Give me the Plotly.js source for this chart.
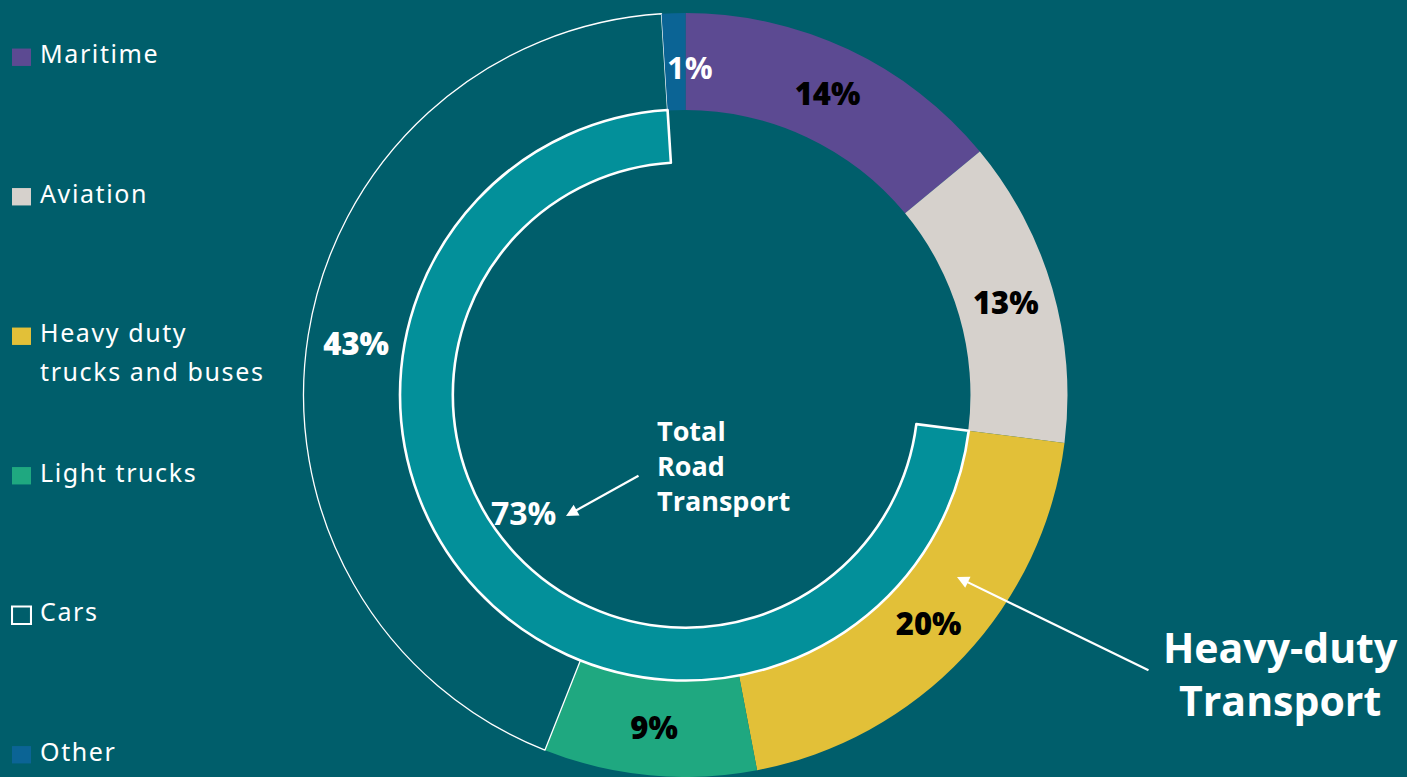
<!DOCTYPE html>
<html>
<head>
<meta charset="utf-8">
<script src="https://cdn.plot.ly/plotly-3.0.1.min.js"></script>
<style>
html,body{margin:0;padding:0;background:#005E6B;}
#chart{width:1407px;height:777px;}
.legendtext{letter-spacing:1.6px;}
.legendpie{transform:translate(21.5px,0px) scale(1.58,1.45);}
</style>
</head>
<body>
<div id="chart"></div>
<script>
// ---- data ----
const categories = ['Maritime', 'Aviation', 'Heavy duty<br>trucks and buses', 'Light trucks', 'Cars', 'Other'];
const shares = [14, 13, 20, 9, 43, 1];
const sliceColors = ['#5C4A92', '#D6D1CC', '#E2C038', '#1FA880', 'rgba(0,0,0,0)', '#0B6495'];
const roadCategories = ['Heavy duty<br>trucks and buses', 'Light trucks', 'Cars'];
const roadTotalLabel = 73;   // value printed in the chart
const roadLabel = 'Total<br>Road<br>Transport';
const heavyLabel = 'Heavy-duty<br>Transport';

// ---- derived ----
const roadShare = categories.reduce((s, c, i) => roadCategories.includes(c) ? s + shares[i] : s, 0);
const firstRoadIdx = categories.indexOf(roadCategories[0]);
const beforeRoad = shares.slice(0, firstRoadIdx).reduce((a, b) => a + b, 0);
const total = shares.reduce((a, b) => a + b, 0);

const W = 1407, H = 777;
const cx = 685.5, cy = 395;
const rOuter = 382, rInnerOuter = 285.5;
const px = x => x / W, py = y => 1 - y / H;

// legend labels: big glyphs on small line pitch, padded with blank lines for spacing
const LINES_PER_ITEM = 7;
const legendLabels = categories.map((c, idx) => {
  const parts = c.split('<br>').map(t => '<span style="font-size:25px">' + t + '</span>');
  let s = parts.join('<br> <br>');
  if (idx === categories.length - 1) return s;
  const used = parts.length * 2 - 1;
  for (let i = used; i < LINES_PER_ITEM; i++) s += '<br> ';
  return s;
});

const outer = {
  type: 'pie',
  labels: legendLabels,
  values: shares,
  sort: false,
  direction: 'clockwise',
  rotation: 0,
  hole: 0.746,
  domain: {x: [px(cx - rOuter), px(cx + rOuter)], y: [Math.max(0, 1 - (cy + rOuter) / H), 1 - (cy - rOuter) / H]},
  marker: {colors: sliceColors, line: {color: ['rgba(0,0,0,0)','rgba(0,0,0,0)','rgba(0,0,0,0)','rgba(0,0,0,0)','#FFFFFF','rgba(0,0,0,0)'], width: [0,0,0,0,1.3,0]}},
  texttemplate: shares.map((v, i) => i === shares.length - 1 ? '' : '%{value}%'),
  textposition: 'inside',
  insidetextorientation: 'horizontal',
  textfont: {family: 'Open Sans', size: 31, color: ['#000','#000','#000','#000','#FFF','#FFF'], weight: 800},
  hoverinfo: 'skip',
  showlegend: true
};

const inner = {
  type: 'pie',
  labels: ['Road', 'Non-road'],
  values: [roadShare, total - roadShare],
  sort: false,
  direction: 'clockwise',
  rotation: beforeRoad / total * 360,
  hole: 0.815,
  domain: {x: [px(cx - rInnerOuter), px(cx + rInnerOuter)], y: [1 - (cy + rInnerOuter) / H, 1 - (cy - rInnerOuter) / H]},
  marker: {colors: ['#03909A', 'rgba(0,0,0,0)'], line: {color: ['#FFFFFF', 'rgba(0,0,0,0)'], width: [2.6, 0]}},
  textinfo: 'none',
  hoverinfo: 'skip',
  showlegend: false
};

const bold = {family: 'Open Sans', color: '#FFFFFF', weight: 'bold'};
const layout = {
  width: W, height: H,
  margin: {l: 0, r: 0, t: 0, b: 0},
  paper_bgcolor: '#005E6B',
  plot_bgcolor: '#005E6B',
  showlegend: true,
  legend: {
    x: 0, y: py(41), xanchor: 'left', yanchor: 'top',
    font: {family: 'Noto Sans', size: 15, color: '#FFFFFF'},
    valign: 'top', bgcolor: 'rgba(0,0,0,0)', traceorder: 'normal', maxheight: 1000
  },
  annotations: [
    {xref: 'paper', yref: 'paper', x: px(690), y: py(67), xanchor: 'center', yanchor: 'middle',
     text: shares[shares.length - 1] + '%', showarrow: false, font: Object.assign({size: 31}, bold)},
    {xref: 'paper', yref: 'paper', x: px(523), y: py(512), xanchor: 'center', yanchor: 'middle',
     text: roadTotalLabel + '%', showarrow: false, font: Object.assign({size: 32}, bold)},
    {xref: 'paper', yref: 'paper', x: px(655), y: py(466), xanchor: 'left', yanchor: 'middle', align: 'left',
     text: roadLabel, showarrow: false, font: Object.assign({size: 27}, bold)},
    {xref: 'paper', yref: 'paper', x: px(566), y: py(516), ax: 74, ay: -41, text: ' ', showarrow: true,
     arrowcolor: '#FFFFFF', arrowwidth: 2.2, arrowhead: 2, arrowsize: 1.1, font: {size: 1}},
    {xref: 'paper', yref: 'paper', x: px(1280), y: py(673), xanchor: 'center', yanchor: 'middle',
     text: heavyLabel, showarrow: false, font: Object.assign({size: 41}, bold)},
    {xref: 'paper', yref: 'paper', x: px(957), y: py(577), ax: 193, ay: 94, text: ' ', showarrow: true,
     arrowcolor: '#FFFFFF', arrowwidth: 2.2, arrowhead: 2, arrowsize: 1.1, font: {size: 1}}
  ]
};

Plotly.newPlot('chart', [outer, inner], layout, {displayModeBar: false, staticPlot: true});
</script>
</body>
</html>
